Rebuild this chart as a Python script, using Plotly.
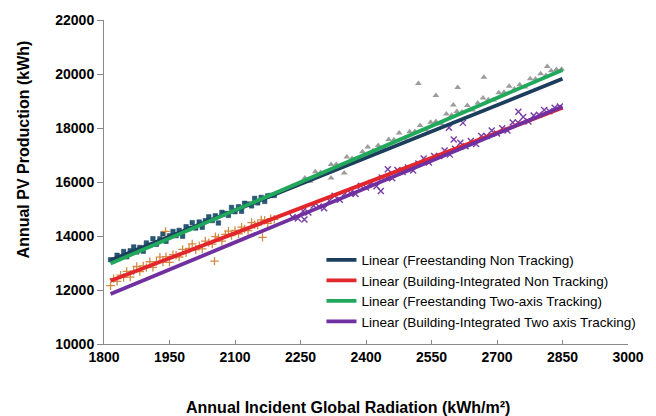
import plotly.graph_objects as go

# ---------------- data ----------------
# Freestanding Non Tracking (squares)
fnt_x = [1815, 1822, 1830, 1838, 1845, 1852, 1860, 1868, 1875, 1882, 1890, 1897, 1905, 1912, 1920, 1928, 1935,
         1942, 1950, 1958, 1965, 1972, 1980, 1988, 1995, 2002, 2010, 2018, 2025, 2032, 2040, 2048, 2055, 2062,
         2070, 2078, 2085, 2092, 2100, 2108, 2115, 2122, 2130, 2138, 2145, 2152, 2160, 2168, 2175, 2182, 2190]
fnt_y = [13120, 13085, 13287, 13209, 13425, 13230, 13452, 13594, 13409, 13575, 13437, 13742, 13654, 13900, 13691,
         13893, 14079, 13804, 14006, 14168, 14014, 14209, 13991, 14343, 14278, 14494, 14296, 14517, 14323, 14568,
         14710, 14572, 14748, 14483, 14875, 14837, 14762, 15058, 14900, 15082, 14917, 15212, 15184, 15116, 15392,
         15227, 15429, 15281, 15486, 15502, 15504]

# Building-Integrated Non Tracking (plus markers)
bint_x = [1815, 1822, 1830, 1838, 1845, 1852, 1860, 1868, 1875, 1882, 1890, 1897, 1905, 1912, 1920, 1928, 1935,
          1942, 1950, 1958, 1965, 1972, 1980, 1988, 1995, 2002, 2010, 2018, 2025, 2032, 2040, 2048, 2055, 2062,
          2070, 2078, 2085, 2092, 2100, 2108, 2115, 2122, 2130, 2138, 2145, 2152, 2160, 2168, 2175, 2182, 2190,
          1941, 2053, 2163]
bint_y = [12160, 12423, 12323, 12552, 12466, 12689, 12479, 12698, 12871, 12685, 12894, 12828, 13047, 12840, 13050,
          13219, 13033, 13236, 13026, 13305, 13289, 13222, 13501, 13381, 13544, 13708, 13487, 13637, 13520, 13813,
          13753, 13702, 13976, 13929, 13808, 14058, 14181, 14015, 14204, 14084, 14327, 14260, 14200, 14499, 14423,
          14406, 14596, 14585, 14468, 14642, 14621,
          14170, 13070, 13950]

# Freestanding Two-axis Tracking (triangles)
ftt_x = [2260, 2272, 2284, 2296, 2308, 2320, 2332, 2344, 2356, 2368, 2380, 2392, 2404, 2416, 2428, 2440, 2452,
         2464, 2476, 2488, 2500, 2512, 2524, 2536, 2548, 2560, 2572, 2584, 2596, 2608, 2620, 2632, 2644, 2656,
         2668, 2680, 2692, 2704, 2716, 2728, 2740, 2752, 2764, 2776, 2788, 2800, 2812, 2824, 2836, 2848,
         2520, 2560, 2600, 2610, 2670, 2815, 2320, 2350]
ftt_y = [16144, 16027, 16380, 16353, 16336, 16650, 16653, 16616, 16929, 16872, 16815, 17119, 17292, 17155, 17348,
         17261, 17574, 17568, 17811, 17624, 17857, 17870, 18093, 17937, 18210, 18243, 18156, 18519, 18472, 18615,
         18589, 18832, 18665, 18928, 19111, 19044, 19038, 19301, 19324, 19547, 19440, 19603, 19517, 19820, 19813,
         20006, 19949, 20122, 20166, 20179,
         19650, 19200, 18850, 19500, 19880, 20280, 16150, 16330]

# Building-Integrated Two axis Tracking (x markers)
bitt_x = [2232, 2244, 2256, 2268, 2280, 2292, 2304, 2316, 2328, 2340, 2352, 2364, 2376, 2388, 2400, 2412, 2424,
          2436, 2448, 2460, 2472, 2484, 2496, 2508, 2520, 2532, 2544, 2556, 2568, 2580, 2592, 2604, 2616, 2628,
          2640, 2652, 2664, 2676, 2688, 2700, 2712, 2724, 2736, 2748, 2760, 2772, 2784, 2796, 2808, 2820, 2832, 2844,
          2749, 2601, 2622, 2590, 2434, 2259, 2450]
bitt_y = [14698, 14649, 14929, 14870, 15130, 15091, 15031, 15302, 15492, 15343, 15583, 15594, 15554, 15865, 15795,
          15966, 15846, 16167, 16167, 16138, 16448, 16369, 16539, 16430, 16681, 16871, 16722, 16962, 16963, 17163,
          17014, 17234, 17455, 17325, 17516, 17406, 17707, 17707, 17908, 17798, 17989, 17909, 18200, 18200, 18411,
          18241, 18462, 18492, 18663, 18623, 18754, 18795,
          18600, 17570, 18190, 18010, 15670, 14610, 16470]

# Linear trendlines (end points)
trend_x = [1815, 2850]
trend_fnt = [13100, 19820]
trend_bint = [12340, 18750]
trend_ftt = [12980, 20150]
trend_bitt = [11850, 18800]

legend_names = [
    "Linear (Freestanding Non Tracking)",
    "Linear (Building-Integrated Non Tracking)",
    "Linear (Freestanding Two-axis Tracking)",
    "Linear (Building-Integrated Two axis Tracking)",
]

x_ticks = [1800, 1950, 2100, 2250, 2400, 2550, 2700, 2850, 3000]
y_ticks = [10000, 12000, 14000, 16000, 18000, 20000, 22000]

# ---------------- figure ----------------
FONT = "Arial, Liberation Sans, sans-serif"
fig = go.Figure()

fig.add_trace(go.Scatter(x=fnt_x, y=fnt_y, mode="markers", showlegend=False,
                         marker=dict(symbol="square", size=4.5, color="#235a78",
                                     line=dict(width=0.5, color="#1a3f55"))))
fig.add_trace(go.Scatter(x=bint_x, y=bint_y, mode="markers", showlegend=False,
                         marker=dict(symbol="cross-thin", size=6, color="#d58a44",
                                     line=dict(width=1.3, color="#d58a44"))))
fig.add_trace(go.Scatter(x=ftt_x, y=ftt_y, mode="markers", showlegend=False,
                         marker=dict(symbol="triangle-up", size=6, color="#9c9c9c")))
fig.add_trace(go.Scatter(x=bitt_x, y=bitt_y, mode="markers", showlegend=False,
                         marker=dict(symbol="x-thin", size=6, color="#7a3da8",
                                     line=dict(width=1.4, color="#7a3da8"))))

line_colors = ["#1c3d5c", "#e2262c", "#22a85c", "#7030a0"]
for name, ys, col in zip(legend_names, [trend_fnt, trend_bint, trend_ftt, trend_bitt], line_colors):
    fig.add_trace(go.Scatter(x=trend_x, y=ys, mode="lines", name=name,
                             line=dict(color=col, width=3.8)))

fig.update_layout(
    width=656, height=416,
    margin=dict(l=104, r=16, t=16, b=72),
    paper_bgcolor="white", plot_bgcolor="white",
    font=dict(family=FONT, color="#000000"),
    showlegend=True,
    legend=dict(x=0.415, y=0.307, xanchor="left", yanchor="top",
                bgcolor="rgba(255,255,255,0)", font=dict(size=13.5, family=FONT),
                tracegroupgap=0),
    xaxis=dict(range=[1800, 3000], tickvals=x_ticks, ticktext=[str(v) for v in x_ticks],
               showgrid=False, zeroline=False, showline=True, linecolor="#888888", linewidth=1,
               ticks="inside", ticklen=4, tickcolor="#888888",
               tickfont=dict(size=14, family=FONT, weight="bold")),
    yaxis=dict(range=[10000, 22000], tickvals=y_ticks, ticktext=[str(v) for v in y_ticks],
               showgrid=False, zeroline=False, showline=True, linecolor="#888888", linewidth=1,
               ticks="outside", ticklen=6, tickcolor="#888888",
               tickfont=dict(size=14, family=FONT, weight="bold")),
    annotations=[
        dict(text="Annual Incident Global Radiation (kWh/m²)", xref="paper", yref="paper",
             x=0.465, y=-0.195, xanchor="center", yanchor="middle", showarrow=False,
             font=dict(size=16, family=FONT, weight="bold")),
        dict(text="Annual PV Production (kWh)", xref="paper", yref="paper",
             x=-0.153, y=0.6, xanchor="center", yanchor="middle", textangle=-90, showarrow=False,
             font=dict(size=16, family=FONT, weight="bold")),
    ],
)

fig.write_html("out.html")
